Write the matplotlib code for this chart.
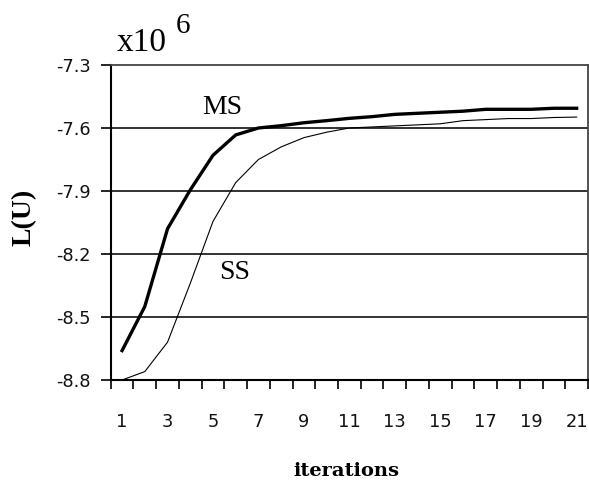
import matplotlib
matplotlib.use("Agg")
import matplotlib.pyplot as plt
import numpy as np

iterations = list(range(1, 22))
ms = [-8.66, -8.45, -8.08, -7.895, -7.73, -7.633, -7.60, -7.589, -7.575, -7.565,
      -7.554, -7.546, -7.535, -7.53, -7.525, -7.52, -7.511, -7.511, -7.511, -7.506, -7.506]
ss = [-8.80, -8.76, -8.62, -8.34, -8.045, -7.86, -7.75, -7.69, -7.646, -7.62,
      -7.60, -7.595, -7.59, -7.585, -7.58, -7.565, -7.56, -7.555, -7.555, -7.55, -7.548]
yticks = [-8.8, -8.5, -8.2, -7.9, -7.6, -7.3]
ytick_labels = ["-8.8", "-8.5", "-8.2", "-7.9", "-7.6", "-7.3"]
xtick_labels = ["1", "3", "5", "7", "9", "11", "13", "15", "17", "19", "21"]

W, H = 589, 487
fig = plt.figure(figsize=(W / 100, H / 100), dpi=100)
ax = fig.add_axes([110.7 / W, 1 - 380 / H, (588 - 110.7) / W, (380 - 65) / H])

ax.set_xlim(0.5, 21.5)
ax.set_ylim(-8.8, -7.3)

for v in yticks[1:-1]:
    ax.axhline(v, color="#222222", lw=1.3, zorder=1)

ax.plot(iterations, ss, color="black", lw=0.8, zorder=3)
ax.plot(iterations, ms, color="black", lw=2.4, zorder=4)

for s in ["left", "bottom"]:
    ax.spines[s].set_color("black")
    ax.spines[s].set_linewidth(1.5)
for s in ["top", "right"]:
    ax.spines[s].set_color("#444444")
    ax.spines[s].set_linewidth(1.3)

tick_font = dict(fontfamily="DejaVu Sans", fontsize=12.8, color="#111111")
ax.set_yticks(yticks)
ax.set_yticklabels(ytick_labels, **tick_font)
ax.tick_params(axis="y", direction="out", length=7.2, width=1.2, pad=7)

ax.set_xticks(list(range(1, 22, 2)))
ax.set_xticklabels(xtick_labels, **tick_font)
ax.tick_params(axis="x", which="major", length=0, pad=24)
ax.set_xticks(np.arange(0.5, 22, 1.0), minor=True)
ax.tick_params(axis="x", which="minor", direction="out", length=6.5, width=1.2)

fig.text(24 / W, 1 - 217 / H, "L(U)", rotation=90, ha="center", va="center",
         fontfamily="Liberation Serif", fontweight="bold", fontsize=20)
fig.text(346 / W, 1 - 471 / H, "iterations", ha="center", va="center",
         fontfamily="DejaVu Serif", fontweight="bold", fontsize=14)
fig.text(117 / W, 1 - 51 / H, "x10", ha="left", va="baseline",
         fontfamily="Liberation Serif", fontsize=24)
fig.text(176 / W, 1 - 33 / H, "6", ha="left", va="baseline",
         fontfamily="Liberation Serif", fontsize=21)

ax.text(5.4, -7.50, "MS", ha="center", va="center", fontfamily="Liberation Serif", fontsize=20)
ax.text(5.97, -8.286, "SS", ha="center", va="center", fontfamily="Liberation Serif", fontsize=20)

fig.savefig("out.png", dpi=100)
